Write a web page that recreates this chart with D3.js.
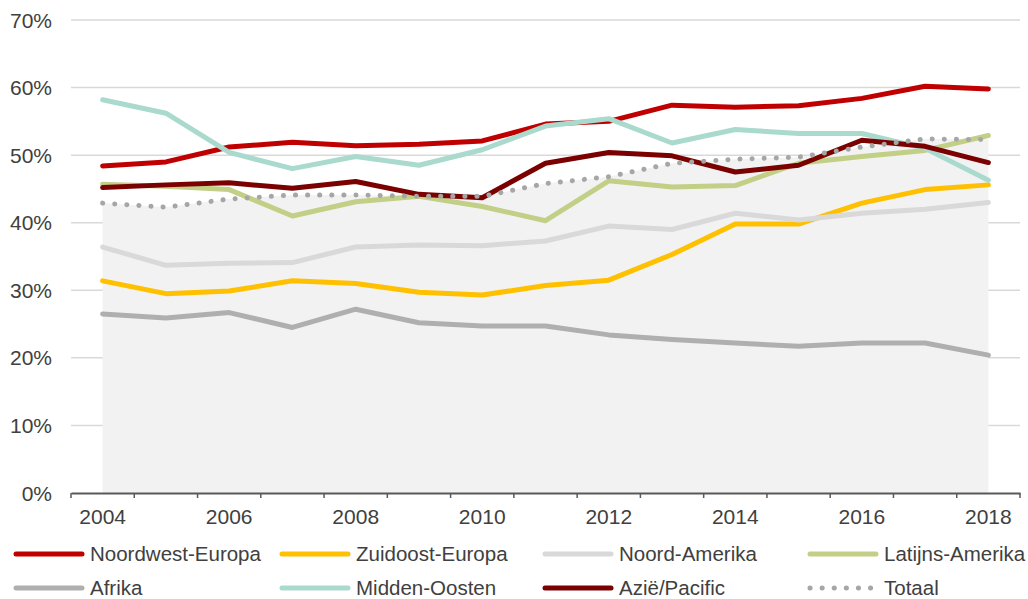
<!DOCTYPE html>
<html>
<head>
<meta charset="utf-8">
<script src="https://cdn.jsdelivr.net/npm/d3@7"></script>
<style>
  body { margin: 0; background: #fff; }
  svg text { font-family: "Liberation Sans", Arial, sans-serif; fill: #404040; }
</style>
</head>
<body>
<div id="container"></div>
<script>
let years = d3.range(2004, 2019);
let tickYears = [2004, 2006, 2008, 2010, 2012, 2014, 2016, 2018];
let yTicks = [0, 10, 20, 30, 40, 50, 60, 70];

let noordwestEuropa = [48.4, 49.0, 51.2, 51.9, 51.4, 51.6, 52.1, 54.6, 55.0, 57.4, 57.1, 57.3, 58.4, 60.2, 59.8];
let zuidoostEuropa = [31.4, 29.5, 29.9, 31.4, 31.0, 29.7, 29.3, 30.7, 31.5, 35.3, 39.8, 39.8, 42.9, 44.9, 45.6];
let noordAmerika = [36.4, 33.7, 34.0, 34.1, 36.4, 36.7, 36.6, 37.3, 39.5, 39.0, 41.4, 40.4, 41.4, 42.0, 43.0];
let latijnsAmerika = [45.7, 45.4, 44.9, 41.0, 43.1, 43.9, 42.4, 40.3, 46.2, 45.3, 45.5, 48.8, 49.8, 50.7, 52.9];
let afrika = [26.5, 25.9, 26.7, 24.5, 27.2, 25.2, 24.7, 24.7, 23.4, 22.7, 22.2, 21.7, 22.2, 22.2, 20.4];
let middenOosten = [58.2, 56.2, 50.4, 48.0, 49.8, 48.5, 50.8, 54.3, 55.4, 51.8, 53.8, 53.2, 53.2, 51.0, 46.3];
let aziePacific = [45.2, 45.6, 45.9, 45.1, 46.1, 44.2, 43.7, 48.8, 50.4, 49.9, 47.5, 48.5, 52.2, 51.3, 48.9];
let totaal = [42.9, 42.3, 43.5, 44.1, 44.1, 43.9, 43.9, 45.8, 46.8, 48.8, 49.4, 49.7, 51.2, 52.4, 52.3];

let series = [
  { name: "Noordwest-Europa", values: noordwestEuropa, color: "#c00000" },
  { name: "Zuidoost-Europa", values: zuidoostEuropa, color: "#ffc000" },
  { name: "Noord-Amerika", values: noordAmerika, color: "#d9d9d9" },
  { name: "Latijns-Amerika", values: latijnsAmerika, color: "#c2cf86" },
  { name: "Afrika", values: afrika, color: "#afafaf" },
  { name: "Midden-Oosten", values: middenOosten, color: "#a9dacd" },
  { name: "Azië/Pacific", values: aziePacific, color: "#7b0000" },
  { name: "Totaal", values: totaal, color: "#a6a6a6", dotted: true }
];

let width = 1028, height = 599;
let plotLeft = 71, plotRight = 1020, plotTop = 20, plotBottom = 493;

let svg = d3.select("#container").append("svg")
  .attr("width", width)
  .attr("height", height);

let x = d3.scaleBand().domain(years).range([plotLeft, plotRight]);
let y = d3.scaleLinear().domain([0, 70]).range([plotBottom, plotTop]);
let cx = (yr) => x(yr) + x.bandwidth() / 2;

// gridlines
svg.append("g")
  .selectAll("line")
  .data(yTicks.filter(d => d > 0))
  .join("line")
  .attr("x1", plotLeft).attr("x2", plotRight)
  .attr("y1", d => y(d)).attr("y2", d => y(d))
  .attr("stroke", "#d9d9d9")
  .attr("stroke-width", 1.5);

// y labels
svg.append("g")
  .selectAll("text")
  .data(yTicks)
  .join("text")
  .attr("x", 52)
  .attr("y", d => y(d))
  .attr("dy", "0.36em")
  .attr("text-anchor", "end")
  .attr("font-size", 21)
  .text(d => d + "%");

// grey area under totaal
let area = d3.area()
  .x((d, i) => cx(years[i]))
  .y0(y(0))
  .y1(d => y(d));
svg.append("path")
  .datum(totaal)
  .attr("d", area)
  .attr("fill", "#f2f2f2");

// x axis
let xAxis = d3.axisBottom(x).tickSize(0).tickFormat(d => tickYears.includes(d) ? d : "");
let gx = svg.append("g").attr("transform", `translate(0,${plotBottom})`).call(xAxis);
gx.select(".domain").attr("stroke", "#595959").attr("stroke-width", 2);
gx.selectAll("text")
  .attr("font-size", 21)
  .attr("font-family", "Liberation Sans, Arial, sans-serif")
  .attr("fill", "#404040")
  .attr("dy", "1.33em");
svg.append("g")
  .selectAll("line")
  .data(years.concat([2019]))
  .join("line")
  .attr("x1", (d, i) => plotLeft + i * x.bandwidth())
  .attr("x2", (d, i) => plotLeft + i * x.bandwidth())
  .attr("y1", plotBottom).attr("y2", plotBottom + 5)
  .attr("stroke", "#595959")
  .attr("stroke-width", 1.5);

// lines
let line = d3.line()
  .x((d, i) => cx(years[i]))
  .y(d => y(d));

series.forEach(s => {
  let p = svg.append("path")
    .datum(s.values)
    .attr("d", line)
    .attr("fill", "none")
    .attr("stroke", s.color)
    .attr("stroke-width", 5)
    .attr("stroke-linejoin", "round")
    .attr("stroke-linecap", "round");
  if (s.dotted) {
    p.attr("stroke-dasharray", "0.1 12").attr("stroke-width", 5);
  }
});

// legend
let legendCols = [14, 280, 543, 808];
let legendRows = [554, 588];
let lg = svg.append("g")
  .selectAll("g")
  .data(series)
  .join("g")
  .attr("transform", (d, i) => `translate(${legendCols[i % 4]},${legendRows[Math.floor(i / 4)]})`);

lg.append("line")
  .attr("x1", 2).attr("x2", 68)
  .attr("y1", 0).attr("y2", 0)
  .attr("stroke", d => d.color)
  .attr("stroke-width", 5)
  .attr("stroke-linecap", "round")
  .attr("stroke-dasharray", d => d.dotted ? "0.1 12" : null);

lg.append("text")
  .attr("x", 76)
  .attr("y", 0)
  .attr("dy", "0.36em")
  .attr("font-size", 20.5)
  .text(d => d.name);
</script>
</body>
</html>
